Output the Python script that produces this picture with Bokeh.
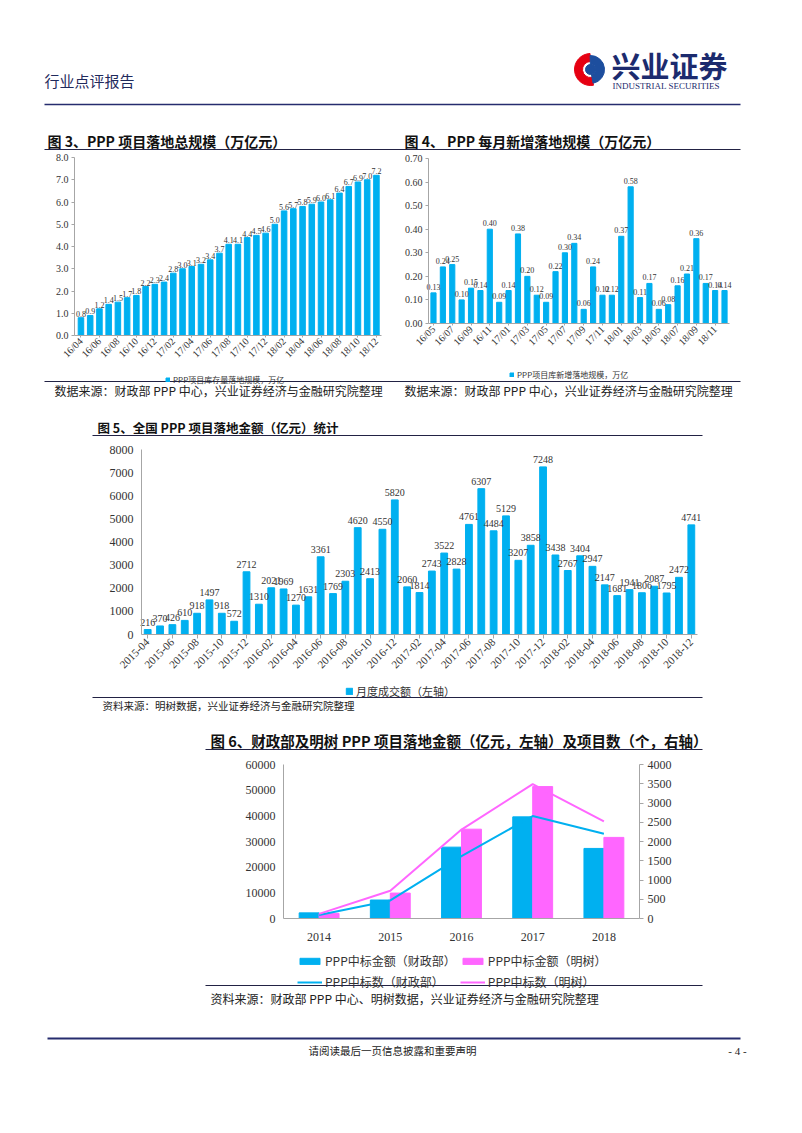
from math import pi
from bokeh.plotting import figure
from bokeh.models import (Range1d, LinearAxis, FixedTicker, NumeralTickFormatter,
                          Legend, LegendItem, ColumnDataSource)
from bokeh.embed import file_html
from bokeh.resources import INLINE
from bokeh.core.properties import value

# ---------------- data ----------------
c3_months = ["16/04", "16/05", "16/06", "16/07", "16/08", "16/09", "16/10", "16/11", "16/12",
             "17/01", "17/02", "17/03", "17/04", "17/05", "17/06", "17/07", "17/08", "17/09",
             "17/10", "17/11", "17/12", "18/01", "18/02", "18/03", "18/04", "18/05", "18/06",
             "18/07", "18/08", "18/09", "18/10", "18/11", "18/12"]
c3_values = [0.8, 0.9, 1.2, 1.4, 1.5, 1.7, 1.8, 2.2, 2.3, 2.4, 2.8, 3.0, 3.1, 3.2, 3.4, 3.7,
             4.1, 4.1, 4.4, 4.5, 4.6, 5.0, 5.6, 5.7, 5.8, 5.9, 6.0, 6.1, 6.4, 6.7, 6.9, 7.0, 7.2]

c4_months = ["16/05", "16/06", "16/07", "16/08", "16/09", "16/10", "16/11", "16/12",
             "17/01", "17/02", "17/03", "17/04", "17/05", "17/06", "17/07", "17/08", "17/09",
             "17/10", "17/11", "17/12", "18/01", "18/02", "18/03", "18/04", "18/05", "18/06",
             "18/07", "18/08", "18/09", "18/10", "18/11", "18/12"]
c4_values = [0.13, 0.24, 0.25, 0.10, 0.15, 0.14, 0.40, 0.09, 0.14, 0.38, 0.20, 0.12, 0.09,
             0.22, 0.30, 0.34, 0.06, 0.24, 0.12, 0.12, 0.37, 0.58, 0.11, 0.17, 0.06, 0.08,
             0.16, 0.21, 0.36, 0.17, 0.14, 0.14]

c5_months = ["2015-04", "2015-05", "2015-06", "2015-07", "2015-08", "2015-09", "2015-10",
             "2015-11", "2015-12", "2016-01", "2016-02", "2016-03", "2016-04", "2016-05",
             "2016-06", "2016-07", "2016-08", "2016-09", "2016-10", "2016-11", "2016-12",
             "2017-01", "2017-02", "2017-03", "2017-04", "2017-05", "2017-06", "2017-07",
             "2017-08", "2017-09", "2017-10", "2017-11", "2017-12", "2018-01", "2018-02",
             "2018-03", "2018-04", "2018-05", "2018-06", "2018-07", "2018-08", "2018-09",
             "2018-10", "2018-11", "2018-12"]
c5_values = [216, 370, 426, 610, 918, 1497, 918, 572, 2712, 1310, 2021, 1969, 1270, 1631,
             3361, 1769, 2303, 4620, 2413, 4550, 5820, 2060, 1814, 2743, 3522, 2828, 4761,
             6307, 4484, 5129, 3207, 3858, 7248, 3438, 2767, 3404, 2947, 2147, 1681, 1941,
             1806, 2087, 1795, 2472, 4741]

c6_years = ["2014", "2015", "2016", "2017", "2018"]
c6_mof_amount = [2200, 7200, 27800, 39600, 27300]
c6_ms_amount = [2000, 9900, 34800, 51400, 31600]
c6_mof_count = [90, 470, 1620, 2660, 2200]
c6_ms_count = [120, 720, 2310, 3490, 2520]

# ---------------- styles / page geometry ----------------
W, H = 786, 1117
SERIF = "Liberation Serif"
CJK = "Noto Sans CJK SC"
BLUE = "#00B0F0"
MAG = "#FF66FF"
NAVY = "#262C6E"
AXG = "#A6A6A6"
TXT = "#333333"
RULE = "#222244"


def xr(d0, d1, px0, px1):
    """x range whose data d0..d1 lands on page pixels px0..px1"""
    k = (d1 - d0) / (px1 - px0)
    return Range1d(d0 - px0 * k, d1 + (W - px1) * k)


def yr(d0, d1, py0, py1):
    """y range whose data d0 lands on pixel row py0 and d1 on py1 (rows from top)"""
    k = (d1 - d0) / (py0 - py1)
    return Range1d(d0 - (H - py0) * k, d1 + py1 * k)


p = figure(width=W, height=H, x_range=Range1d(0, W), y_range=Range1d(H, 0),
           x_axis_type=None, y_axis_type=None, output_backend="svg",
           toolbar_location=None, min_border=0)
p.outline_line_color = None

p.extra_x_ranges = {
    "c3x": xr(-0.7, 32.55, 74, 381),
    "c4x": xr(-0.53, 31.53, 428, 729),
    "c5x": xr(-0.5, 44.5, 141, 697),
    "c6x": xr(0, 5, 283, 639),
}
p.extra_y_ranges = {
    "c3y": yr(0, 8, 335, 157),
    "c4y": yr(0, 0.7, 323, 158),
    "c5y": yr(0, 8000, 634, 449),
    "c6y": yr(0, 60000, 918, 764),
    "c6r": yr(0, 4000, 918, 764),
}


def style_axis(ax, size, tick_out=3, standoff=3):
    ax.axis_line_color = AXG
    ax.major_tick_line_color = AXG
    ax.minor_tick_line_color = None
    ax.major_label_text_font = SERIF
    ax.major_label_text_font_size = f"{size}px"
    ax.major_label_text_color = TXT
    ax.major_tick_in = 0
    ax.major_tick_out = tick_out
    ax.major_label_standoff = standoff
    return ax


def make_legend(items, size, gw, gh, loc, **kw):
    return Legend(items=items, location=loc, orientation="horizontal",
                  label_text_font=CJK, label_text_font_size=f"{size}px",
                  label_text_color=TXT, glyph_width=gw, glyph_height=gh,
                  label_height=gh, label_standoff=3, padding=2, margin=0,
                  spacing=4, border_line_color=None, background_fill_alpha=0, **kw)


def txt(x, y, s, size, color="#222222", font=CJK, bold=False, align="left"):
    p.text(x=[x], y=[y], text=[s], text_font=value(font), text_font_size=f"{size}px",
           text_color=color, text_align=align, text_baseline="middle",
           text_font_style="bold" if bold else "normal")


def hline(x0, x1, y, color=RULE, width=1.2):
    p.segment(x0=[x0], y0=[y], x1=[x1], y1=[y], line_color=color, line_width=width)


# ---------------- header ----------------
txt(44, 80, "行业点评报告", 15, color="#1F2A5C")
p.annular_wedge(x=[590], y=[69], inner_radius=8, outer_radius=16, start_angle=1.6,
                end_angle=4.9, color="#E60012")
p.annular_wedge(x=[590], y=[69], inner_radius=5, outer_radius=14, start_angle=4.9,
                end_angle=1.6 + 2 * pi, color="#1D4E9E")
p.circle(x=[590], y=[69], radius=5, color="#1D4E9E")
txt(611, 64, "兴业证券", 29, color="#1C2B6E", bold=True)
txt(612, 85, "INDUSTRIAL SECURITIES", 9, color="#1C2B6E", font=SERIF)
hline(44, 740, 104, color=NAVY, width=1.5)
txt(47, 140, "图 3、PPP 项目落地总规模（万亿元）", 14, color="#111111", bold=True)
txt(404, 140, "图 4、 PPP 每月新增落地规模（万亿元）", 14, color="#111111", bold=True)
hline(44, 740, 149)

# ---------------- chart 3 ----------------
x3 = list(range(len(c3_values)))
src3 = ColumnDataSource(dict(x=x3, v=c3_values, lab=[f"{v:.1f}" for v in c3_values]))
r3 = p.vbar(x="x", top="v", width=0.6, source=src3, color=BLUE,
            x_range_name="c3x", y_range_name="c3y")
p.text(x="x", y="v", text="lab", source=src3, text_font=value(SERIF), text_font_size="8px",
       text_align="center", text_baseline="bottom", y_offset=-1, text_color=TXT,
       x_range_name="c3x", y_range_name="c3y")
ax = style_axis(LinearAxis(x_range_name="c3x", y_range_name="c3y", fixed_location=0,
                           bounds=(-0.7, 32.55), ticker=FixedTicker(ticks=x3[::2]),
                           major_label_overrides={i: c3_months[i] for i in x3[::2]},
                           major_label_orientation=pi / 4), 10, tick_out=2, standoff=2)
p.add_layout(ax, "below")
ay = style_axis(LinearAxis(x_range_name="c3x", y_range_name="c3y", fixed_location=-0.7,
                           bounds=(0, 8), ticker=FixedTicker(ticks=list(range(0, 9))),
                           formatter=NumeralTickFormatter(format="0.0")), 10)
p.add_layout(ay, "left")
p.add_layout(make_legend([LegendItem(label="PPP项目库存量落地规模，万亿", renderers=[r3])],
                         8, 5, 5, (165, 732)))

# ---------------- chart 4 ----------------
x4 = list(range(len(c4_values)))
src4 = ColumnDataSource(dict(x=x4, v=c4_values, lab=[f"{v:.2f}" for v in c4_values]))
r4 = p.vbar(x="x", top="v", width=0.55, source=src4, color=BLUE,
            x_range_name="c4x", y_range_name="c4y")
p.text(x="x", y="v", text="lab", source=src4, text_font=value(SERIF), text_font_size="8px",
       text_align="center", text_baseline="bottom", y_offset=-3, text_color=TXT,
       x_range_name="c4x", y_range_name="c4y")
ax = style_axis(LinearAxis(x_range_name="c4x", y_range_name="c4y", fixed_location=0,
                           bounds=(-0.53, 31.53), ticker=FixedTicker(ticks=x4[::2]),
                           major_label_overrides={i: c4_months[i] for i in x4[::2]},
                           major_label_orientation=pi / 4), 10, tick_out=2, standoff=2)
p.add_layout(ax, "below")
ay = style_axis(LinearAxis(x_range_name="c4x", y_range_name="c4y", fixed_location=-0.53,
                           bounds=(0, 0.7),
                           ticker=FixedTicker(ticks=[0, 0.1, 0.2, 0.3, 0.4, 0.5, 0.6, 0.7]),
                           formatter=NumeralTickFormatter(format="0.00")), 10)
p.add_layout(ay, "left")
p.add_layout(make_legend([LegendItem(label="PPP项目库新增落地规模，万亿", renderers=[r4])],
                         8, 5, 5, (509, 737)))

# ---------------- sources 3/4, title 5 ----------------
hline(44, 740, 381)
txt(54, 390, "数据来源：财政部 PPP 中心，兴业证券经济与金融研究院整理", 12)
txt(404, 390, "数据来源：财政部 PPP 中心，兴业证券经济与金融研究院整理", 12)
txt(97, 427, "图 5、全国 PPP 项目落地金额（亿元）统计", 12.5, color="#111111", bold=True)
hline(92, 702, 435)

# ---------------- chart 5 ----------------
x5 = list(range(len(c5_values)))
src5 = ColumnDataSource(dict(x=x5, v=c5_values, lab=[str(v) for v in c5_values]))
r5 = p.vbar(x="x", top="v", width=0.55, source=src5, color=BLUE,
            x_range_name="c5x", y_range_name="c5y")
p.text(x="x", y="v", text="lab", source=src5, text_font=value(SERIF), text_font_size="10px",
       text_align="center", text_baseline="bottom", y_offset=-4, text_color=TXT,
       x_range_name="c5x", y_range_name="c5y")
ax = style_axis(LinearAxis(x_range_name="c5x", y_range_name="c5y", fixed_location=0,
                           bounds=(-0.5, 44.5), ticker=FixedTicker(ticks=x5[::2]),
                           major_label_overrides={i: c5_months[i] for i in x5[::2]},
                           major_label_orientation=pi / 4), 11, tick_out=4, standoff=2)
p.add_layout(ax, "below")
ay = style_axis(LinearAxis(x_range_name="c5x", y_range_name="c5y", fixed_location=-0.5,
                           bounds=(0, 8000), ticker=FixedTicker(ticks=list(range(0, 8001, 1000))),
                           formatter=NumeralTickFormatter(format="0")), 12, tick_out=0, standoff=8)
p.add_layout(ay, "left")
p.add_layout(make_legend([LegendItem(label="月度成交额（左轴）", renderers=[r5])],
                         11, 8, 8, (345, 418)))

# ---------------- source 5, title 6 ----------------
hline(92, 702, 697)
txt(102, 705, "资料来源：明树数据，兴业证券经济与金融研究院整理", 10.5)
txt(210, 740, "图 6、财政部及明树 PPP 项目落地金额（亿元，左轴）及项目数（个，右轴）",
    14.5, color="#111111", bold=True)
hline(205, 702, 749)

# ---------------- chart 6 ----------------
xc = [i + 0.5 for i in range(len(c6_years))]
src6 = ColumnDataSource(dict(
    xb=[x - 0.14 for x in xc], xm=[x + 0.14 for x in xc], xc=xc,
    mof_a=c6_mof_amount, ms_a=c6_ms_amount, mof_c=c6_mof_count, ms_c=c6_ms_count))
rb1 = p.vbar(x="xb", top="mof_a", width=0.28, source=src6, color=BLUE,
             x_range_name="c6x", y_range_name="c6y")
rb2 = p.vbar(x="xm", top="ms_a", width=0.28, source=src6, color=MAG,
             x_range_name="c6x", y_range_name="c6y")
rl1 = p.line(x="xc", y="mof_c", source=src6, line_color=BLUE, line_width=2,
             x_range_name="c6x", y_range_name="c6r")
rl2 = p.line(x="xc", y="ms_c", source=src6, line_color=MAG, line_width=2,
             x_range_name="c6x", y_range_name="c6r")
ax = style_axis(LinearAxis(x_range_name="c6x", y_range_name="c6y", fixed_location=0,
                           bounds=(0, 5), ticker=FixedTicker(ticks=xc),
                           major_label_overrides={x: y for x, y in zip(xc, c6_years)}),
                12, tick_out=0, standoff=14)
ax.major_tick_line_color = None
p.add_layout(ax, "below")
ay = style_axis(LinearAxis(x_range_name="c6x", y_range_name="c6y", fixed_location=0,
                           bounds=(0, 60000), ticker=FixedTicker(ticks=list(range(0, 60001, 10000))),
                           formatter=NumeralTickFormatter(format="0")), 12, tick_out=0, standoff=8)
p.add_layout(ay, "left")
ar = style_axis(LinearAxis(x_range_name="c6x", y_range_name="c6r", fixed_location=5,
                           bounds=(0, 4000), ticker=FixedTicker(ticks=list(range(0, 4001, 500))),
                           formatter=NumeralTickFormatter(format="0")), 12, tick_out=4, standoff=4)
p.add_layout(ar, "right")
p.add_layout(make_legend([
    LegendItem(label="PPP中标金额（财政部）", renderers=[rb1]),
    LegendItem(label="PPP中标金额（明树）", renderers=[rb2]),
    LegendItem(label="PPP中标数（财政部）", renderers=[rl1]),
    LegendItem(label="PPP中标数（明树）", renderers=[rl2]),
], 12, 25, 8, (297, 127), ncols=2))

# ---------------- source 6 / footer ----------------
hline(205, 702, 985)
txt(210, 998, "资料来源：财政部 PPP 中心、明树数据，兴业证券经济与金融研究院整理", 12)
hline(47, 740, 1038, color=NAVY, width=2)
txt(392, 1050, "请阅读最后一页信息披露和重要声明", 10.5, align="center")
txt(737, 1050, "- 4 -", 11, font=SERIF, align="center")

open("out.html", "w").write(file_html(p, INLINE))
